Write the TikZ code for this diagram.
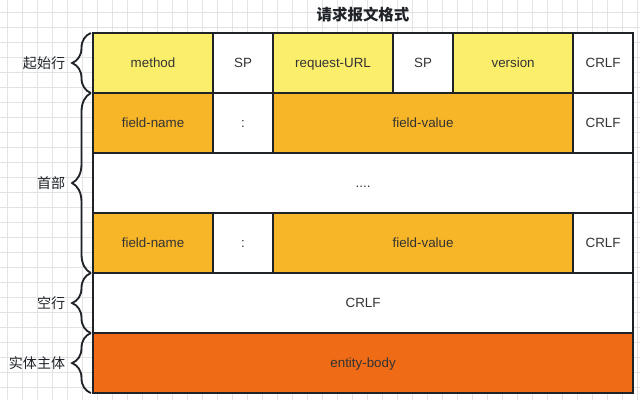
\documentclass[tikz,border=0pt]{standalone}
\usepackage{fontspec}
\setmainfont{Liberation Sans}
\newfontfamily\cjk{Noto Sans CJK SC}
\usepackage{tikz}
\usetikzlibrary{positioning,decorations.pathreplacing}
\definecolor{amarillo}{HTML}{FAEE6A}
\definecolor{naranja}{HTML}{F7B528}
\definecolor{naranjaosc}{HTML}{EF6B16}
\definecolor{borde}{HTML}{1F2328}
\definecolor{texto}{HTML}{333333}
\definecolor{rejilla}{HTML}{E3E3E3}

\tikzset{
  celda/.style={draw=borde, line width=1.4pt, fill=white, outer sep=0pt, inner sep=0pt,
    minimum height=1.5cm, text=texto, text height=1.6ex, text depth=0.3ex,
    font=\fontsize{9.5}{11}\selectfont},
  ancha/.style={minimum width=3cm},
  estrecha/.style={minimum width=1.5cm},
  llave/.style={decorate, decoration={brace, amplitude=0.47cm}, draw=borde, line width=1.3pt},
  etiqueta/.style={anchor=east, inner sep=0pt, xshift=-0.62cm, text=borde,
    font=\cjk\fontsize{10}{12}\selectfont}
}

\begin{document}
\begin{tikzpicture}[x=0.025cm, y=-0.025cm]
  % Lienzo (640x400 px)
  \useasboundingbox (0,0) rectangle (640,400);
  \fill[white] (0,0) rectangle (640,400);

  % Rejilla de fondo
  \foreach \x in {7,22,...,637}{
    \draw[rejilla, line width=0.5pt] (\x,0) -- (\x,400);
  }
  \foreach \y in {12,27,...,397}{
    \draw[rejilla, line width=0.5pt] (0,\y) -- (640,\y);
  }

  % Titulo
  \node[text=borde, font=\cjk\bfseries\fontsize{11}{13}\selectfont] (titulo) at (363,15) {请求报文格式};

  % Linea de inicio
  \node[celda, ancha, fill=amarillo, anchor=north west] (metodo) at (93,33) {method};
  \node[celda, estrecha, right=0pt of metodo] (sp1) {SP};
  \node[celda, ancha, fill=amarillo, right=0pt of sp1] (url) {request-URL};
  \node[celda, estrecha, right=0pt of url] (sp2) {SP};
  \node[celda, ancha, fill=amarillo, right=0pt of sp2] (version) {version};
  \node[celda, estrecha, right=0pt of version] (crlf1) {CRLF};

  % Cabeceras
  \node[celda, ancha, fill=naranja, below=0pt of metodo] (nombre1) {field-name};
  \node[celda, estrecha, right=0pt of nombre1] (dos1) {:};
  \node[celda, minimum width=7.5cm, fill=naranja, right=0pt of dos1] (valor1) {field-value};
  \node[celda, estrecha, right=0pt of valor1] (crlf2) {CRLF};

  \node[celda, minimum width=13.5cm, anchor=north west] (puntos) at (nombre1.south west) {....};

  \node[celda, ancha, fill=naranja, anchor=north west] (nombre2) at (puntos.south west) {field-name};
  \node[celda, estrecha, right=0pt of nombre2] (dos2) {:};
  \node[celda, minimum width=7.5cm, fill=naranja, right=0pt of dos2] (valor2) {field-value};
  \node[celda, estrecha, right=0pt of valor2] (crlf3) {CRLF};

  % Linea vacia y cuerpo
  \node[celda, minimum width=13.5cm, anchor=north west] (vacia) at (nombre2.south west) {CRLF};
  \node[celda, minimum width=13.5cm, fill=naranjaosc, anchor=north west] (cuerpo) at (vacia.south west) {entity-body};

  % Llaves
  \draw[llave] ([xshift=-1.5pt]metodo.south west) -- node[etiqueta] {起始行} ([xshift=-1.5pt]metodo.north west);
  \draw[llave] ([xshift=-1.5pt]nombre2.south west) -- node[etiqueta] {首部} ([xshift=-1.5pt]nombre1.north west);
  \draw[llave] ([xshift=-1.5pt]vacia.south west) -- node[etiqueta] {空行} ([xshift=-1.5pt]vacia.north west);
  \draw[llave] ([xshift=-1.5pt]cuerpo.south west) -- node[etiqueta] {实体主体} ([xshift=-1.5pt]cuerpo.north west);
\end{tikzpicture}
\end{document}
